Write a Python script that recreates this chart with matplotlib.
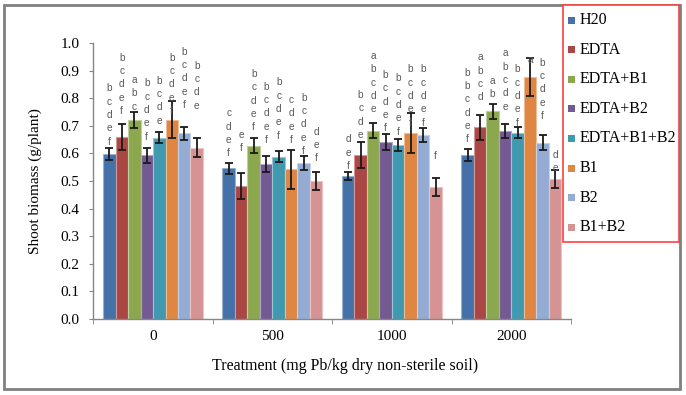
import numpy as np
import matplotlib
matplotlib.use('Agg')
import matplotlib.pyplot as plt
from matplotlib.patches import Rectangle
from matplotlib.colors import to_rgb

# data
doses = ['0', '500', '1000', '2000']
treatments = ['H20', 'EDTA', 'EDTA+B1', 'EDTA+B2', 'EDTA+B1+B2', 'B1', 'B2', 'B1+B2']

h20 = [0.598, 0.546, 0.518, 0.595]
edta = [0.659, 0.482, 0.594, 0.694]
edta_b1 = [0.721, 0.627, 0.682, 0.752]
edta_b2 = [0.593, 0.562, 0.642, 0.681]
edta_b1b2 = [0.657, 0.588, 0.630, 0.675]
b1 = [0.722, 0.542, 0.674, 0.876]
b2 = [0.673, 0.565, 0.667, 0.639]
b1b2 = [0.621, 0.501, 0.479, 0.506]

h20_err = [0.021, 0.019, 0.015, 0.021]
edta_err = [0.047, 0.047, 0.046, 0.046]
edta_b1_err = [0.028, 0.027, 0.027, 0.027]
edta_b2_err = [0.026, 0.028, 0.028, 0.027]
edta_b1b2_err = [0.019, 0.020, 0.021, 0.019]
b1_err = [0.068, 0.071, 0.072, 0.068]
b2_err = [0.023, 0.025, 0.025, 0.026]
b1b2_err = [0.033, 0.033, 0.033, 0.033]

# significance letters
h20_sig = ['bcdef', 'cdef', 'def', 'bbcdef']
edta_sig = ['bcdef', 'ef', 'bcde', 'abcd']
edta_b1_sig = ['abc', 'bcdef', 'abcde', 'ab']
edta_b2_sig = ['bcdef', 'bcdef', 'bcdef', 'abcde']
edta_b1b2_sig = ['bcde', 'bcdef', 'bcdef', 'bcdef']
b1_sig = ['bcdef', 'cdef', 'bcdef', 'a']
b2_sig = ['bcdef', 'bcdef', 'bcdef', 'bcdef']
b1b2_sig = ['bcde', 'def', 'f', 'de']

# height of lowest letter of each stack (data units)
h20_lab = [0.642, 0.600, 0.554, 0.651]
edta_lab = [0.754, 0.618, 0.667, 0.803]
edta_b1_lab = [0.769, 0.694, 0.760, 0.815]
edta_b2_lab = [0.661, 0.649, 0.691, 0.769]
edta_b1b2_lab = [0.719, 0.664, 0.679, 0.711]
b1_lab = [0.754, 0.649, 0.711, 0.938]
b2_lab = [0.775, 0.609, 0.711, 0.736]
b1b2_lab = [0.773, 0.582, 0.592, 0.546]

values = [h20, edta, edta_b1, edta_b2, edta_b1b2, b1, b2, b1b2]
errors = [h20_err, edta_err, edta_b1_err, edta_b2_err, edta_b1b2_err, b1_err, b2_err, b1b2_err]
sigs = [h20_sig, edta_sig, edta_b1_sig, edta_b2_sig, edta_b1b2_sig, b1_sig, b2_sig, b1b2_sig]
labs = [h20_lab, edta_lab, edta_b1_lab, edta_b2_lab, edta_b1b2_lab, b1_lab, b2_lab, b1b2_lab]

colors = ['#4472a8', '#aa4644', '#8ca84f', '#745a93', '#4199af', '#de8642', '#94acd4', '#d59394']

serif = 'Liberation Serif'

fig = plt.figure(figsize=(6.86, 3.95), dpi=100)
ax = fig.add_axes([93.3/686, 1-319/395, 477.7/686, 276/395])

x = np.arange(len(doses))
w = 0.1046
n = len(treatments)
for i in range(n):
    xs = x + (i - (n-1)/2) * w
    c = np.array(to_rgb(colors[i]))
    edge = c + (1 - c) * 0.45
    ax.bar(xs, values[i], w, color=colors[i], edgecolor=edge, linewidth=0.8, zorder=2)
    ax.errorbar(xs, values[i], yerr=errors[i], fmt='none', ecolor='#1a1a1a',
                elinewidth=1.3, capsize=2.6, capthick=1.3, zorder=3)
    for j in range(len(doses)):
        letters = sigs[i][j]
        for k, ch in enumerate(letters[::-1]):
            ax.annotate(ch, (xs[j], labs[i][j]), xytext=(0, k*9.6), textcoords='offset points',
                        ha='center', va='center', fontsize=7.3, color='#5a5a5a',
                        family='Liberation Sans', zorder=4)

ax.set_xlim(-0.5, len(doses) - 0.5)
ax.set_ylim(0, 1.0)
ax.set_yticks(np.arange(0, 1.01, 0.1))
ax.set_yticklabels(['%.1f' % v for v in np.arange(0, 1.01, 0.1)], family=serif, fontsize=11)
ax.set_xticks(x)
ax.set_xticklabels(doses, family=serif, fontsize=11)
ax.set_xticks(np.arange(-0.5, len(doses)), minor=True)
ax.tick_params(axis='x', which='major', length=0, pad=8)
ax.tick_params(axis='x', which='minor', length=3.5, color='#868686', direction='out')
ax.tick_params(axis='y', length=3.2, color='#868686', pad=6.5)
for s in ['top', 'right']:
    ax.spines[s].set_visible(False)
for s in ['left', 'bottom']:
    ax.spines[s].set_color('#868686')
    ax.spines[s].set_linewidth(1.0)

ax.set_ylabel('Shoot biomass (g/plant)', family=serif, fontsize=11)
ax.yaxis.set_label_coords(-0.107, 0.5)
ax.set_xlabel('Treatment (mg Pb/kg dry non-sterile soil)', family=serif, fontsize=11.5)
ax.xaxis.set_label_coords(0.527, -0.141)

# outer chart border
fig.patches.append(Rectangle((4/686, 1-389/395), 676/686, 384/395, transform=fig.transFigure,
                             fill=False, edgecolor='#808080', linewidth=2, zorder=0))

# legend box
fig.patches.append(Rectangle((563/686, 1-242/395), 116/686, 237/395, transform=fig.transFigure,
                             facecolor='white', edgecolor='#ff4040', linewidth=1.2, zorder=5))
for i, name in enumerate(treatments):
    yc = 20 + i * 29.6
    fig.patches.append(Rectangle((568/686, 1-(yc+3.5)/395), 7/686, 7/395, transform=fig.transFigure,
                                 facecolor=colors[i], edgecolor='none', zorder=6))
    fig.text(580/686, 1-yc/395, name, family=serif, fontsize=11.5, va='center', ha='left', zorder=7)

fig.savefig('out.png', dpi=100)
